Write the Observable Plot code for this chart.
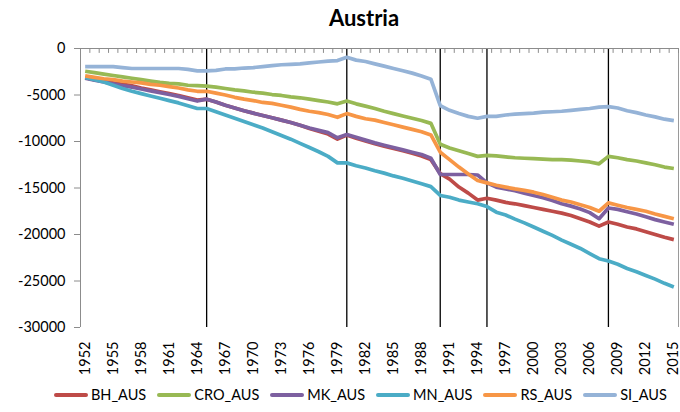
<!DOCTYPE html>
<html><head><meta charset="utf-8">
<script src="https://cdn.jsdelivr.net/npm/d3@7"></script>
<script src="https://cdn.jsdelivr.net/npm/@observablehq/plot@0.6"></script>
<style>
html,body{margin:0;padding:0;background:#fff;}
body{position:relative;width:680px;height:412px;overflow:hidden;font-family:Lato,"Open Sans",sans-serif;color:#000;}
#title{position:absolute;left:0;top:3px;width:728px;text-align:center;font-weight:bold;font-size:22px;line-height:30px;}
#chart{position:absolute;left:0;top:36px;}
#legend{position:absolute;left:54px;top:386px;display:flex;align-items:center;white-space:nowrap;font-size:14.5px;}
.item{display:flex;align-items:center;margin-right:11px;}
.item:last-child{margin-right:0;}
.swatch{display:inline-block;width:34px;height:4px;margin-right:3px;border-radius:2px;}
</style></head><body>
<div id="title">Austria</div>
<div id="chart"></div>
<div id="legend"></div>
<script>
const years = d3.range(1952, 2016);
const seriesNames = ["BH_AUS", "CRO_AUS", "MK_AUS", "MN_AUS", "RS_AUS", "SI_AUS"];
const seriesColors = ["#BE4B48", "#98B954", "#7D60A0", "#4BACC6", "#F79646", "#95B3D7"];

const BH_AUS = [-3150,-3350,-3500,-3700,-3850,-4000,-4250,-4450,-4650,-4850,-5050,-5300,-5550,-5450,
 -5750,-6100,-6400,-6700,-6950,-7200,-7450,-7700,-7950,-8250,-8600,-8900,-9200,-9750,
 -9300,-9650,-9950,-10250,-10500,-10750,-11000,-11250,-11550,-11950,
 -13450,-14050,-14900,-15550,-16300,-16100,-16300,-16550,-16700,-16900,
 -17100,-17300,-17500,-17700,-17950,-18300,-18650,-19100,-18650,-18900,-19200,-19400,-19700,-20000,-20300,-20550];
const CRO_AUS = [-2450,-2600,-2750,-2900,-3050,-3200,-3350,-3500,-3650,-3750,-3800,-3950,-4000,-4050,
 -4150,-4300,-4450,-4550,-4700,-4800,-4950,-5050,-5200,-5300,-5450,-5600,-5750,-5950,
 -5650,-5950,-6200,-6450,-6750,-7000,-7250,-7500,-7750,-8050,
 -10300,-10700,-11000,-11300,-11600,-11500,-11550,-11650,-11750,-11800,
 -11850,-11900,-11950,-11950,-12000,-12100,-12200,-12400,-11600,-11750,-11950,-12100,-12300,-12500,-12750,-12900];
const MK_AUS = [-3200,-3400,-3600,-3800,-4000,-4150,-4350,-4550,-4750,-4950,-5150,-5400,-5650,-5450,
 -5750,-6100,-6400,-6700,-6950,-7200,-7450,-7700,-7950,-8250,-8550,-8800,-9050,-9600,
 -9250,-9550,-9850,-10150,-10400,-10650,-10900,-11150,-11400,-11800,
 -13550,-13550,-13550,-13550,-13600,-14450,-14900,-15100,-15300,-15550,
 -15800,-16050,-16350,-16700,-16950,-17250,-17650,-18300,-17150,-17300,-17550,-17800,-18100,-18400,-18650,-18900];
const MN_AUS = [-3100,-3350,-3600,-3950,-4300,-4600,-4850,-5100,-5350,-5600,-5850,-6150,-6450,-6450,
 -6800,-7150,-7500,-7850,-8200,-8550,-8950,-9350,-9750,-10200,-10650,-11100,-11600,-12300,
 -12300,-12600,-12850,-13150,-13400,-13700,-13950,-14250,-14550,-14850,
 -15800,-16000,-16300,-16500,-16700,-17000,-17600,-17900,-18350,-18750,
 -19200,-19650,-20100,-20600,-21050,-21500,-22050,-22600,-22850,-23200,-23650,-24000,-24400,-24800,-25250,-25650];
const RS_AUS = [-2950,-3100,-3250,-3350,-3500,-3600,-3700,-3850,-3950,-4100,-4250,-4450,-4600,-4600,
 -4800,-5000,-5250,-5450,-5600,-5800,-5900,-6100,-6300,-6550,-6750,-6900,-7100,-7400,
 -7000,-7300,-7550,-7700,-7950,-8200,-8450,-8700,-8950,-9300,
 -11150,-11950,-12750,-13500,-14200,-14450,-14700,-14900,-15100,-15250,
 -15450,-15700,-16000,-16300,-16500,-16800,-17100,-17500,-16600,-16850,-17100,-17300,-17500,-17800,-18050,-18300];
const SI_AUS = [-1950,-1950,-1950,-1950,-2050,-2150,-2150,-2150,-2150,-2150,-2150,-2250,-2400,-2400,
 -2350,-2200,-2200,-2100,-2050,-1950,-1850,-1750,-1700,-1650,-1550,-1450,-1350,-1300,
 -950,-1250,-1400,-1650,-1900,-2150,-2400,-2650,-2950,-3300,
 -6150,-6650,-7000,-7300,-7500,-7300,-7300,-7150,-7050,-7000,
 -6950,-6850,-6800,-6750,-6650,-6550,-6450,-6300,-6250,-6400,-6700,-6900,-7150,-7350,-7600,-7750];

const xTickLabels = [1952,1955,1958,1961,1964,1967,1970,1973,1976,1979,1982,1985,1988,1991,1994,1997,2000,2003,2006,2009,2012,2015];
const yTicks = [0,-5000,-10000,-15000,-20000,-25000,-30000];
const breakYears = [1965, 1980, 1990, 1995, 2008];

const seriesValues = [BH_AUS, CRO_AUS, MK_AUS, MN_AUS, RS_AUS, SI_AUS];
const rows = seriesNames.flatMap((name, i) => years.map((year, j) => ({series: name, year, value: seriesValues[i][j]})));
const boundaries = [...years.map(y => y - 0.5), years[years.length - 1] + 0.5];

const tickShape = {draw(context, l) { context.moveTo(0, 0); context.lineTo(0, l); }};

const chart = Plot.plot({
  width: 680,
  height: 350,
  marginLeft: 80,
  marginRight: 2,
  marginTop: 12,
  marginBottom: 59,
  style: {fontFamily: "Lato, 'Open Sans', sans-serif", fontSize: "14.5px", color: "#000", background: "transparent"},
  x: {type: "linear", domain: [1951.5, 2015.5]},
  y: {domain: [-30000, 0]},
  color: {domain: seriesNames, range: seriesColors},
  marks: [
    Plot.ruleX([2015.5], {stroke: "#9a9a9a"}),
    Plot.ruleX(breakYears, {stroke: "#000", strokeWidth: 1.3}),
    Plot.line(rows, {x: "year", y: "value", z: "series", stroke: "series", strokeWidth: 3.7, strokeLinejoin: "round", strokeLinecap: "butt"}),
    Plot.ruleY([0], {stroke: "#8c8c8c"}),
    Plot.ruleX([1951.5], {stroke: "#8c8c8c"}),
    Plot.vector(boundaries, {x: d => d, y: d => 0, length: 4, anchor: "start", shape: tickShape, stroke: "#8c8c8c", strokeWidth: 1}),
    Plot.axisY({ticks: yTicks, tickSize: 6, tickPadding: 9, tickFormat: d => String(d), stroke: "#8c8c8c", fill: "#000", label: null}),
    Plot.axisX({anchor: "bottom", ticks: xTickLabels, tickSize: 0, tickRotate: -90, tickPadding: 14, tickFormat: d => String(d), fill: "#000", label: null})
  ]
});
document.getElementById("chart").appendChild(chart);

const legend = document.getElementById("legend");
seriesNames.forEach((name, i) => {
  const item = document.createElement("div");
  item.className = "item";
  const sw = document.createElement("span");
  sw.className = "swatch";
  sw.style.background = seriesColors[i];
  const label = document.createElement("span");
  label.textContent = name;
  item.appendChild(sw);
  item.appendChild(label);
  legend.appendChild(item);
});
</script>
</body></html>
